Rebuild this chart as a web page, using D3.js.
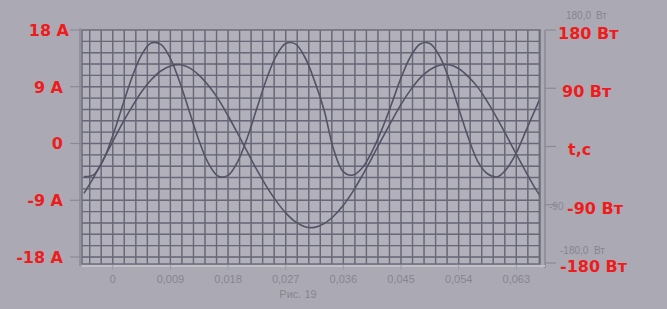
<!DOCTYPE html>
<html>
<head>
<meta charset="utf-8">
<script src="https://cdn.jsdelivr.net/npm/d3@7"></script>
<style>
    body { margin: 0; background: #abaab4; }
    svg { display: block; }
    .lbl { font-family: "DejaVu Sans", "Liberation Sans", sans-serif; font-weight: bold; font-size: 16px; fill: #ee1c1c; }
    .gray-txt { font-family: "Liberation Sans", Arial, sans-serif; font-size: 10px; fill: #86858f; }
</style>
</head>
<body>
<script>
// values (time in s, current in A, power in W)
const timeS = [-0.0045, -0.003, -0.0015, 0, 0.0015, 0.003, 0.0045, 0.006, 0.0075, 0.009,
    0.0105, 0.012, 0.0135, 0.015, 0.0165, 0.018, 0.0195, 0.021, 0.0225, 0.024,
    0.0255, 0.027, 0.0285, 0.03, 0.0315, 0.033, 0.0345, 0.036, 0.0375, 0.039,
    0.0405, 0.042, 0.0435, 0.045, 0.0465, 0.048, 0.0495, 0.051, 0.0525, 0.054,
    0.0555, 0.057, 0.0585, 0.06, 0.0615, 0.063, 0.0645, 0.066, 0.0675];

const currentA = [-7.9, -5.4, -2.6, 0.3, 3.2, 5.8, 8.2, 10.1, 11.5, 12.3,
    12.5, 12.0, 10.8, 9.1, 7.0, 4.4, 1.6, -1.3, -4.2, -6.8,
    -9.1, -11.0, -12.4, -13.2, -13.3, -12.7, -11.5, -9.8, -7.6, -5.0,
    -2.2, 0.7, 3.5, 6.2, 8.5, 10.4, 11.7, 12.4, 12.5, 11.9,
    10.6, 8.9, 6.6, 4.0, 1.2, -1.7, -4.5, -7.2, -9.4];

const powerW = [-52.6, -49.7, -26.6, 12.2, 59.1, 104.8, 140.6, 159.3, 157.2, 134.8,
    96.4, 49.5, 3.5, -32.7, -52.0, -50.6, -28.8, 9.1, 55.8, 102.0,
    138.7, 158.6, 158.0, 136.8, 99.3, 52.8, -10, -45, -50, -38,
    -12, 22, 62, 104, 138, 157.9, 158.7, 138.9, 102.3, 56.1,
    9.4, -28.6, -48, -53, -40, -15, 20, 55, 90];

const xTickValues = [0, 0.009, 0.018, 0.027, 0.036, 0.045, 0.054, 0.063];
const xTickLabels = ["0", "0,009", "0,018", "0,027", "0,036", "0,045", "0,054", "0,063"];

const leftValues = [18, 9, 0, -9, -18];
const leftLabels = ["18 А", "9 А", "0", "-9 А", "-18 А"];

const rightValues = [180, 90, 0, -90, -180];
const rightLabels = ["180 Вт", "90 Вт", "t,c", "-90 Вт", "-180 Вт"];

const data = timeS.map((t, i) => ({t: t, i: currentA[i], p: powerW[i]}));

const canvWidth = 667, canvHeight = 309;
const svg = d3.select("body").append("svg")
    .attr("width", canvWidth)
    .attr("height", canvHeight);

const plot = {left: 82, right: 540, top: 30, bottom: 264};

const x = d3.scaleLinear().domain([-0.0048, 0.0667]).range([plot.left, plot.right]);
const yI = d3.scaleLinear().domain([-18, 18]).range([257, 30]);
const yP = d3.scaleLinear().domain([-180, 180]).range([257, 30]);
// right hand labels sit a little lower in the photo
const yPLabel = d3.scaleLinear().domain([-180, 180]).range([266, 33]);

// plot background
svg.append("rect")
    .attr("x", plot.left).attr("y", plot.top)
    .attr("width", plot.right - plot.left).attr("height", plot.bottom - plot.top)
    .attr("fill", "#b2b1bb");

svg.append("clipPath").attr("id", "clip")
    .append("rect")
    .attr("x", plot.left).attr("y", plot.top)
    .attr("width", plot.right - plot.left).attr("height", plot.bottom - plot.top);

const grid = svg.append("g").attr("clip-path", "url(#clip)");

//------GRID-----------------------------------------------------
const minorX = d3.range(-6, 76).map(k => k * 0.0009).filter(v => x(v) > plot.left && x(v) < plot.right);
const minorY = d3.range(-22, 22).map(k => k * 0.9).filter(v => yI(v) > plot.top && yI(v) < plot.bottom);

grid.selectAll("line.minor-x").data(minorX.filter((v, k) => k % 2 === 1))
    .enter().append("line")
    .attr("x1", d => x(d)).attr("x2", d => x(d))
    .attr("y1", plot.top).attr("y2", plot.bottom)
    .attr("stroke", "#93929f").attr("stroke-width", 1);

grid.selectAll("line.minor-y").data(minorY.filter((v, k) => k % 2 === 1))
    .enter().append("line")
    .attr("x1", plot.left).attr("x2", plot.right)
    .attr("y1", d => yI(d)).attr("y2", d => yI(d))
    .attr("stroke", "#93929f").attr("stroke-width", 1);

const majorX = d3.range(-3, 38).map(k => k * 0.0018).filter(v => x(v) > plot.left && x(v) < plot.right);
const majorY = d3.range(-11, 11).map(k => k * 1.8).filter(v => yI(v) > plot.top && yI(v) < plot.bottom);

grid.selectAll("line.major-x").data(majorX)
    .enter().append("line")
    .attr("x1", d => x(d)).attr("x2", d => x(d))
    .attr("y1", plot.top).attr("y2", plot.bottom)
    .attr("stroke", "#696878").attr("stroke-width", 1.4);

grid.selectAll("line.major-y").data(majorY)
    .enter().append("line")
    .attr("x1", plot.left).attr("x2", plot.right)
    .attr("y1", d => yI(d)).attr("y2", d => yI(d))
    .attr("stroke", "#696878").attr("stroke-width", 1.4);

//------CURVES-----------------------------------------------------
const lineI = d3.line().x(d => x(d.t)).y(d => yI(d.i)).curve(d3.curveCatmullRom);
const lineP = d3.line().x(d => x(d.t)).y(d => yP(d.p)).curve(d3.curveCatmullRom);

grid.append("path").datum(data)
    .attr("d", lineI)
    .attr("fill", "none").attr("stroke", "#545366").attr("stroke-width", 1.6);

grid.append("path").datum(data)
    .attr("d", lineP)
    .attr("fill", "none").attr("stroke", "#545366").attr("stroke-width", 1.6);

//------FRAME-----------------------------------------------------
svg.append("rect")
    .attr("x", plot.left).attr("y", plot.top)
    .attr("width", plot.right - plot.left).attr("height", plot.bottom - plot.top)
    .attr("fill", "none").attr("stroke", "#6d6c7a").attr("stroke-width", 1.5);

svg.append("line")
    .attr("x1", 80).attr("x2", 80).attr("y1", 28).attr("y2", 266)
    .attr("stroke", "#8a8996").attr("stroke-width", 1.5);

svg.append("line")
    .attr("x1", 545).attr("x2", 545).attr("y1", 30).attr("y2", 268)
    .attr("stroke", "#8a8996").attr("stroke-width", 1.5);

svg.append("line")
    .attr("x1", 82).attr("x2", 545).attr("y1", 266).attr("y2", 266)
    .attr("stroke", "#c2c1c9").attr("stroke-width", 2);

// left ticks + labels
svg.selectAll("line.ltick").data(leftValues)
    .enter().append("line")
    .attr("x1", 70).attr("x2", 81)
    .attr("y1", d => yI(d)).attr("y2", d => yI(d))
    .attr("stroke", "#8a8996").attr("stroke-width", 1.2);

svg.selectAll("text.left-lbl").data(leftValues)
    .enter().append("text")
    .attr("class", "lbl")
    .attr("x", d => d === 18 ? 69 : 63)
    .attr("y", d => yI(d))
    .attr("dy", "0.36em")
    .attr("text-anchor", "end")
    .text((d, k) => leftLabels[k]);

// right ticks + labels
svg.selectAll("line.rtick").data(rightValues)
    .enter().append("line")
    .attr("x1", 545).attr("x2", 556)
    .attr("y1", d => yPLabel(d) - 3).attr("y2", d => yPLabel(d) - 3)
    .attr("stroke", "#8a8996").attr("stroke-width", 1.2);

// faded original labels of the printed chart
svg.append("text").attr("class", "gray-txt").attr("x", 566).attr("y", 19).text("180,0");
svg.append("text").attr("class", "gray-txt").attr("x", 596).attr("y", 19).text("Вт");
svg.append("text").attr("class", "gray-txt").attr("x", 549).attr("y", 210).text("-90");
svg.append("text").attr("class", "gray-txt").attr("x", 560).attr("y", 254).text("-180,0");
svg.append("text").attr("class", "gray-txt").attr("x", 594).attr("y", 254).text("Вт");

svg.selectAll("text.right-lbl").data(rightValues)
    .enter().append("text")
    .attr("class", "lbl")
    .attr("x", (d, k) => [558, 562, 568, 567, 560][k])
    .attr("y", d => yPLabel(d))
    .attr("dy", "0.36em")
    .text((d, k) => rightLabels[k]);

//------X AXIS-----------------------------------------------------
svg.selectAll("line.xtick").data(xTickValues)
    .enter().append("line")
    .attr("x1", d => x(d)).attr("x2", d => x(d))
    .attr("y1", 265).attr("y2", 270)
    .attr("stroke", "#9a99a5").attr("stroke-width", 1);

svg.selectAll("text.xlbl").data(xTickValues)
    .enter().append("text")
    .attr("class", "gray-txt")
    .attr("x", d => x(d))
    .attr("y", 283)
    .attr("text-anchor", "middle")
    .style("font-size", "11px")
    .text((d, k) => xTickLabels[k]);

svg.append("text")
    .attr("class", "gray-txt")
    .attr("x", 298).attr("y", 298)
    .attr("text-anchor", "middle")
    .style("font-size", "11px")
    .text("Рис. 19");
</script>
</body>
</html>
